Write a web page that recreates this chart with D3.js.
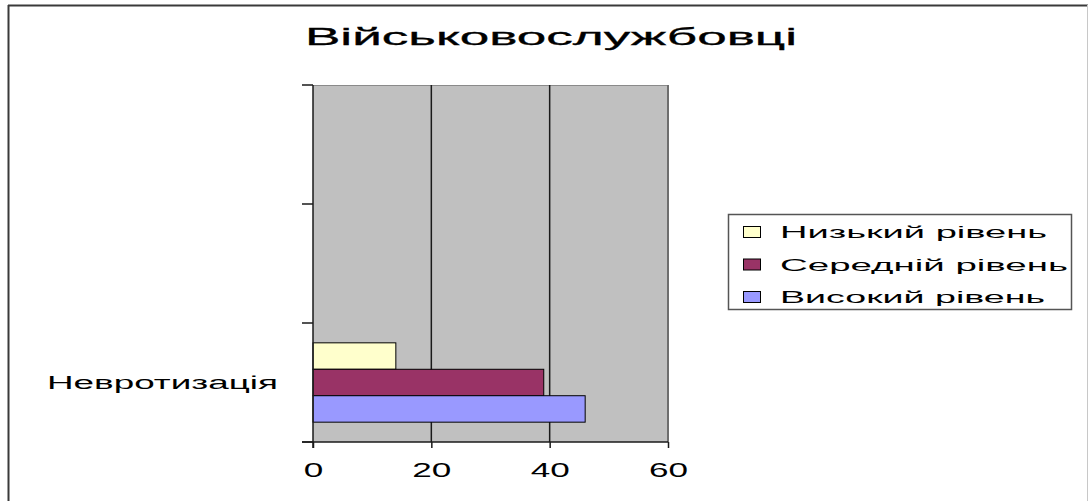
<!DOCTYPE html>
<html>
<head>
<meta charset="utf-8">
<script src="https://cdn.jsdelivr.net/npm/d3@7"></script>
<style>
  html, body { margin: 0; padding: 0; background: #ffffff; }
  svg { display: block; font-family: "Liberation Sans", Arial, sans-serif; }
</style>
</head>
<body>
<svg id="chart" width="1088" height="501"></svg>
<script>
// Chart content
const chartTitle = "Військовослужбовці";
const categoryLabels = ["Невротизація", "", ""];   // bottom to top
const seriesNames = ["Низький рівень", "Середній рівень", "Високий рівень"];
const seriesColors = ["#FFFFCC", "#993366", "#9999FF"];
const lowValues = [14, null, null];
const midValues = [39, null, null];
const highValues = [46, null, null];
const xTicks = [0, 20, 40, 60];

const seriesValues = [lowValues, midValues, highValues];

const svg = d3.select("#chart");

// Outer chart frame
svg.append("line").attr("x1", 8).attr("x2", 1088).attr("y1", 5.5).attr("y2", 5.5)
  .attr("stroke", "#3a3a3a").attr("stroke-width", 2);
svg.append("line").attr("x1", 8.5).attr("x2", 8.5).attr("y1", 5).attr("y2", 501)
  .attr("stroke", "#3a3a3a").attr("stroke-width", 2);
svg.append("line").attr("x1", 1087.5).attr("x2", 1087.5).attr("y1", 5).attr("y2", 501)
  .attr("stroke", "#c8c8c8").attr("stroke-width", 1);

// Plot area
const plot = { left: 313, right: 668, top: 85, bottom: 442 };

const x = d3.scaleLinear().domain([0, 60]).range([plot.left, plot.right]);
const y = d3.scaleBand().domain(d3.range(categoryLabels.length))
  .range([plot.bottom, plot.top]).paddingInner(0).paddingOuter(0);
const ys = d3.scaleBand().domain(d3.range(seriesNames.length))
  .range([0, y.bandwidth()]).paddingInner(0).paddingOuter(0.75);

svg.append("rect")
  .attr("x", plot.left).attr("y", plot.top)
  .attr("width", plot.right - plot.left).attr("height", plot.bottom - plot.top)
  .attr("fill", "#C0C0C0");

// Plot border (top)
svg.append("line").attr("x1", plot.left).attr("x2", plot.right)
  .attr("y1", plot.top + 0.5).attr("y2", plot.top + 0.5)
  .attr("stroke", "#8a8a8a").attr("stroke-width", 1);

// Vertical gridlines
svg.append("g").selectAll("line")
  .data(xTicks.filter(d => d > 0))
  .join("line")
  .attr("x1", d => x(d)).attr("x2", d => x(d))
  .attr("y1", plot.top).attr("y2", plot.bottom)
  .attr("stroke", d => d === 60 ? "#6e6e6e" : "#1a1a1a")
  .attr("stroke-width", d => d === 60 ? 2 : 1.5);

// Bars
const bars = [];
categoryLabels.forEach((c, ci) => {
  seriesValues.forEach((vals, si) => {
    if (vals[ci] != null) bars.push({ ci, si, v: vals[ci] });
  });
});

svg.append("g").selectAll("rect")
  .data(bars)
  .join("rect")
  .attr("x", x(0))
  .attr("y", d => y(d.ci) + ys(d.si))
  .attr("width", d => x(d.v) - x(0))
  .attr("height", ys.bandwidth())
  .attr("fill", d => seriesColors[d.si])
  .attr("stroke", "#000")
  .attr("stroke-width", 1);

// X axis
const stretch = 1.8;
const xAxis = svg.append("g")
  .attr("transform", `translate(0,${plot.bottom})`)
  .call(d3.axisBottom(x).tickValues(xTicks).tickSize(6).tickPadding(15).tickSizeOuter(0));
xAxis.select(".domain").remove();
xAxis.selectAll(".tick line").attr("stroke", "#1a1a1a").attr("stroke-width", 1.5);
xAxis.selectAll(".tick text")
  .attr("font-size", 19.5)
  .attr("font-family", "Liberation Sans, Arial, sans-serif")
  .attr("fill", "#000")
  .attr("transform", `scale(${stretch},1)`);

// X baseline
svg.append("line").attr("x1", plot.left - 11).attr("x2", plot.right)
  .attr("y1", plot.bottom).attr("y2", plot.bottom)
  .attr("stroke", "#1a1a1a").attr("stroke-width", 1.5);

// Y axis line and category boundary ticks
svg.append("line").attr("x1", plot.left).attr("x2", plot.left)
  .attr("y1", plot.top).attr("y2", plot.bottom + 6)
  .attr("stroke", "#1a1a1a").attr("stroke-width", 1.5);
const boundaries = d3.range(categoryLabels.length + 1).map(i =>
  i < categoryLabels.length ? y(i) + y.bandwidth() : y(i - 1));
svg.append("g").selectAll("line")
  .data(boundaries)
  .join("line")
  .attr("x1", plot.left - 11).attr("x2", plot.left)
  .attr("y1", d => d).attr("y2", d => d)
  .attr("stroke", "#1a1a1a").attr("stroke-width", 1.5);

// Category labels
svg.append("g").selectAll("text")
  .data(categoryLabels.map((c, i) => ({ c, i })).filter(d => d.c))
  .join("text")
  .attr("x", 278)
  .attr("y", d => y(d.i) + y.bandwidth() / 2)
  .attr("dy", "0.35em")
  .attr("text-anchor", "end")
  .attr("font-size", 18)
  .attr("textLength", 231)
  .attr("lengthAdjust", "spacingAndGlyphs")
  .text(d => d.c);

// Title
svg.append("text")
  .attr("x", 551).attr("y", 45)
  .attr("text-anchor", "middle")
  .attr("font-size", 24)
  .attr("font-weight", "normal")
  .attr("stroke", "#000").attr("stroke-width", 0.3)
  .attr("textLength", 492)
  .attr("lengthAdjust", "spacingAndGlyphs")
  .text(chartTitle);

// Legend
const legend = svg.append("g");
legend.append("rect")
  .attr("x", 728.5).attr("y", 214.5).attr("width", 343).attr("height", 95)
  .attr("fill", "#fff").attr("stroke", "#555").attr("stroke-width", 1.5);
const legendRowY = d3.scalePoint().domain(d3.range(seriesNames.length)).range([232, 297]);
const legendWidths = [267, 288, 265];
const rows = legend.selectAll("g.row")
  .data(seriesNames.map((n, i) => ({ n, i })))
  .join("g").attr("class", "row");
rows.append("rect")
  .attr("x", 743.5).attr("y", d => legendRowY(d.i) - 5.5)
  .attr("width", 17).attr("height", 11)
  .attr("fill", d => seriesColors[d.i])
  .attr("stroke", "#000").attr("stroke-width", 1);
rows.append("text")
  .attr("x", 780).attr("y", d => legendRowY(d.i))
  .attr("dy", "0.36em")
  .attr("font-size", 17)
  .attr("textLength", d => legendWidths[d.i])
  .attr("lengthAdjust", "spacingAndGlyphs")
  .text(d => d.n);
</script>
</body>
</html>
